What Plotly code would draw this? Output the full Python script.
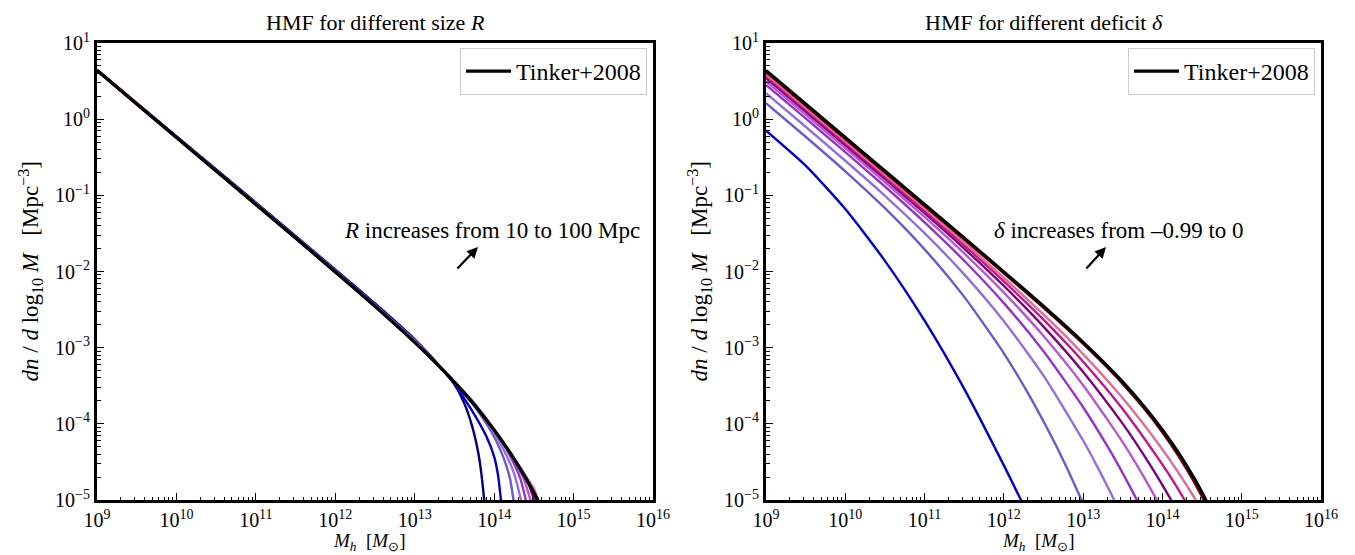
import numpy as np
import plotly.graph_objects as go

# ---------------- data (log10 values) ----------------
# Tinker+2008 reference HMF (same curve in both panels)
tinker_logM = [9.0, 9.5, 10.0, 10.5, 11.0, 11.5, 12.0, 12.5, 13.0, 13.25, 13.5, 13.75, 14.0, 14.2, 14.4, 14.5, 14.6]
tinker_logn = [0.64, 0.20, -0.24, -0.68, -1.12, -1.56, -2.005, -2.457, -2.93, -3.183, -3.453, -3.749, -4.08, -4.379, -4.717, -4.905, -5.107]

# Left panel: different size R (10 ... 100 Mpc)
R_values = [10, 20, 30, 40, 50, 60, 70, 80, 90, 100]
R_colors = ["navy", "mediumblue", "slateblue", "mediumpurple", "darkorchid",
            "mediumorchid", "purple", "mediumvioletred", "palevioletred", "darkred"]
R_logM = [
    [9, 10, 11, 12, 12.5, 13, 13.33, 13.5, 13.62, 13.72, 13.8, 13.84, 13.88],
    [9, 10, 11, 12, 12.5, 13, 13.33, 13.5, 13.7, 13.9, 14.0, 14.05, 14.09],
    [9, 10, 11, 12, 12.5, 13, 13.33, 13.6, 13.8, 14.0, 14.12, 14.2, 14.25],
    [9, 10, 11, 12, 12.5, 13, 13.33, 13.7, 13.9, 14.1, 14.25, 14.35],
    [9, 10, 11, 12, 12.5, 13, 13.33, 13.75, 14.0, 14.2, 14.33, 14.41],
    [9, 10, 11, 12, 12.5, 13, 13.33, 13.75, 14.0, 14.25, 14.38, 14.47],
    [9, 10, 11, 12, 12.5, 13, 13.33, 13.75, 14.0, 14.3, 14.43, 14.52],
    [9, 10, 11, 12, 12.5, 13, 13.33, 13.75, 14.0, 14.3, 14.46, 14.55],
    [9, 10, 11, 12, 12.5, 13, 13.33, 13.75, 14.0, 14.35, 14.5, 14.57],
    [9, 10, 11, 12, 12.5, 13, 13.33, 13.75, 14.0, 14.2, 14.4, 14.5, 14.59],
]
R_logn = [
    [0.65, -0.225, -1.095, -1.975, -2.42, -2.89, -3.26, -3.48, -3.72, -4.02, -4.38, -4.66, -5.05],
    [0.648, -0.228, -1.10, -1.98, -2.43, -2.90, -3.26, -3.48, -3.79, -4.16, -4.43, -4.68, -5.05],
    [0.646, -0.232, -1.105, -1.99, -2.44, -2.905, -3.26, -3.57, -3.84, -4.17, -4.45, -4.72, -5.05],
    [0.644, -0.235, -1.11, -1.995, -2.445, -2.912, -3.265, -3.67, -3.95, -4.30, -4.65, -5.05],
    [0.642, -0.237, -1.113, -1.998, -2.449, -2.918, -3.265, -3.73, -4.08, -4.42, -4.72, -5.05],
    [0.641, -0.238, -1.115, -2.0, -2.452, -2.922, -3.267, -3.74, -4.08, -4.48, -4.74, -5.05],
    [0.641, -0.239, -1.117, -2.002, -2.454, -2.925, -3.268, -3.745, -4.08, -4.55, -4.78, -5.05],
    [0.640, -0.239, -1.118, -2.003, -2.455, -2.927, -3.27, -3.747, -4.08, -4.53, -4.80, -5.05],
    [0.640, -0.240, -1.119, -2.004, -2.456, -2.928, -3.27, -3.748, -4.08, -4.61, -4.85, -5.05],
    [0.640, -0.240, -1.12, -2.005, -2.457, -2.93, -3.27, -3.749, -4.08, -4.38, -4.72, -4.91, -5.08],
]

# Right panel: different deficit delta (-0.99 ... 0)
d_colors = ["mediumblue", "slateblue", "mediumpurple", "darkorchid", "mediumorchid",
            "purple", "mediumvioletred", "palevioletred", "darkred"]
d_logM = [
    [9, 9.5, 10, 10.5, 11, 11.5, 12, 12.23],
    [9, 9.5, 10, 10.5, 11, 11.5, 12, 12.3, 12.6, 12.8, 13.0],
    [9, 9.5, 10, 10.5, 11, 11.5, 12, 12.5, 13, 13.2, 13.4],
    [9, 9.5, 10, 10.5, 11, 11.5, 12, 12.5, 13, 13.3, 13.5, 13.7],
    [9, 9.5, 10, 10.5, 11, 11.5, 12, 12.5, 13, 13.5, 13.75, 13.95],
    [9, 9.5, 10, 10.5, 11, 11.5, 12, 12.5, 13, 13.5, 13.8, 14.0, 14.13],
    [9, 9.5, 10, 10.5, 11, 11.5, 12, 12.5, 13, 13.5, 14.0, 14.15, 14.3],
    [9, 9.5, 10, 10.5, 11, 11.5, 12, 12.5, 13, 13.5, 14.0, 14.25, 14.44],
    [9, 9.5, 10, 10.5, 11, 11.5, 12, 12.5, 13, 13.25, 13.5, 13.75, 14.0, 14.2, 14.4, 14.5, 14.59],
]
d_logn = [
    [-0.15, -0.61, -1.18, -1.86, -2.645, -3.54, -4.545, -5.03],
    [0.21, -0.231, -0.685, -1.169, -1.709, -2.333, -3.074, -3.59, -4.166, -4.59, -5.047],
    [0.34, -0.100, -0.546, -1.006, -1.497, -2.038, -2.652, -3.368, -4.219, -4.604, -5.018],
    [0.45, 0.01, -0.433, -0.884, -1.355, -1.859, -2.415, -3.047, -3.782, -4.284, -4.65, -5.043],
    [0.50, 0.06, -0.381, -0.827, -1.284, -1.763, -2.277, -2.846, -3.493, -4.244, -4.67, -5.037],
    [0.54, 0.10, -0.341, -0.784, -1.234, -1.699, -2.19, -2.723, -3.318, -4.001, -4.466, -4.804, -5.037],
    [0.565, 0.125, -0.315, -0.757, -1.202, -1.657, -2.129, -2.633, -3.184, -3.808, -4.535, -4.775, -5.036],
    [0.59, 0.15, -0.29, -0.731, -1.173, -1.622, -2.082, -2.564, -3.084, -3.665, -4.336, -4.718, -5.034],
    [0.62, 0.18, -0.26, -0.70, -1.14, -1.58, -2.025, -2.477, -2.95, -3.205, -3.478, -3.777, -4.115, -4.42, -4.765, -4.96, -5.12],
]

# axis tick labels
major_exp_x = [9, 10, 11, 12, 13, 14, 15, 16]
major_exp_y = [-5, -4, -3, -2, -1, 0, 1]

# ---------------- figure ----------------
FONT = "Liberation Serif"
fig = go.Figure()

def add_curve(lm, ln, color, width, xa, ya, **kw):
    fig.add_trace(go.Scatter(x=np.power(10.0, lm), y=np.power(10.0, ln), mode="lines",
                             line=dict(color=color, width=width, shape="spline", smoothing=0.6),
                             xaxis=xa, yaxis=ya, **kw))

for lm, ln, c in zip(R_logM, R_logn, R_colors):
    add_curve(lm, ln, c, 2.4, "x", "y", showlegend=False, hoverinfo="skip")
add_curve(tinker_logM, tinker_logn, "black", 3.3, "x", "y", name="Tinker+2008", legend="legend")

for lm, ln, c in zip(d_logM, d_logn, d_colors):
    add_curve(lm, ln, c, 2.4, "x2", "y2", showlegend=False, hoverinfo="skip")
add_curve(tinker_logM, tinker_logn, "black", 3.3, "x2", "y2", name="Tinker+2008", legend="legend2")

W, H = 1355, 555
L1, R1 = 89, 645
L2, R2 = 758, 1313
TOP, BOT = 35, 492

minor_x = [m * 10.0 ** e for e in range(9, 16) for m in range(2, 10)]
minor_y = [m * 10.0 ** e for e in range(-5, 1) for m in range(2, 10)]

def axis(domain, rng, exps, minor_vals, anchor):
    return dict(type="log", domain=domain, range=rng, anchor=anchor, automargin=False,
                showline=True, linewidth=3, linecolor="black", mirror=True,
                ticks="inside", ticklen=7, tickwidth=1.2, tickcolor="black",
                showgrid=False, zeroline=False,
                tickmode="array", tickvals=[10.0 ** e for e in exps],
                ticktext=["10<sup>%s</sup>" % (str(e) if e >= 0 else "−" + str(-e)) for e in exps],
                tickfont=dict(family=FONT, size=20, color="black"),
                minor=dict(tickmode="array", tickvals=minor_vals, ticks="inside", ticklen=3.5,
                           tickwidth=1, tickcolor="black", showgrid=False))

ydom = [(H - BOT) / H, (H - TOP) / H]
leg = dict(bgcolor="white", bordercolor="#cccccc", borderwidth=1,
           font=dict(family=FONT, size=24, color="black"), itemwidth=45,
           xanchor="right", yanchor="top", y=(H - 40) / H)
fig.update_layout(
    width=W, height=H, margin=dict(l=0, r=0, t=0, b=0),
    paper_bgcolor="white", plot_bgcolor="white", hovermode=False,
    xaxis=axis([L1 / W, R1 / W], [9, 16], major_exp_x, minor_x, "y"),
    yaxis=axis(ydom, [-5, 1], major_exp_y, minor_y, "x"),
    xaxis2=axis([L2 / W, R2 / W], [9, 16], major_exp_x, minor_x, "y2"),
    yaxis2=axis(ydom, [-5, 1], major_exp_y, minor_y, "x2"),
    legend=dict(x=(R1 - 6) / W, **leg),
    legend2=dict(x=(R2 - 6) / W, **leg),
)

ann = []
def txt(x, y, s, size=21, **kw):
    d = dict(x=x / W, y=(H - y) / H, xref="paper", yref="paper", text=s, showarrow=False,
             xanchor="center", yanchor="middle",
             font=dict(family=FONT, size=size, color="black"))
    d.update(kw)
    ann.append(d)

txt((L1 + R1) / 2, 15, "HMF for different size <i>R</i>", size=22)
txt((L2 + R2) / 2, 15, "HMF for different deficit <i>δ</i>", size=22)
txt((L1 + R1) / 2 - 6, 534, "<i>M<sub>h</sub></i>  [<i>M</i><sub>⊙</sub>]", size=19)
txt((L2 + R2) / 2 - 6, 534, "<i>M<sub>h</sub></i>  [<i>M</i><sub>⊙</sub>]", size=19)
ylab = "<i>dn</i> / <i>d</i> log<sub>10</sub> <i>M</i>   [Mpc<sup>−3</sup>]"
txt(22, (TOP + BOT) / 2, ylab, size=23, textangle=-90)
txt(691, (TOP + BOT) / 2, ylab, size=23, textangle=-90)
txt(484, 222, "<i>R</i> increases from 10 to 100 Mpc", size=23)
txt(1111, 222, "<i>δ</i> increases from –0.99 to 0", size=23)

for hx, hy, tx, ty in [(470, 239, 448, 262), (1098, 239, 1077, 262)]:
    ann.append(dict(x=hx / W, y=(H - hy) / H, xref="paper", yref="paper", text="",
                    showarrow=True, ax=tx - hx, ay=ty - hy, axref="pixel", ayref="pixel",
                    arrowhead=2, arrowsize=1, arrowwidth=2.2, arrowcolor="black"))

fig.update_layout(annotations=ann)
fig.write_html("out.html")
